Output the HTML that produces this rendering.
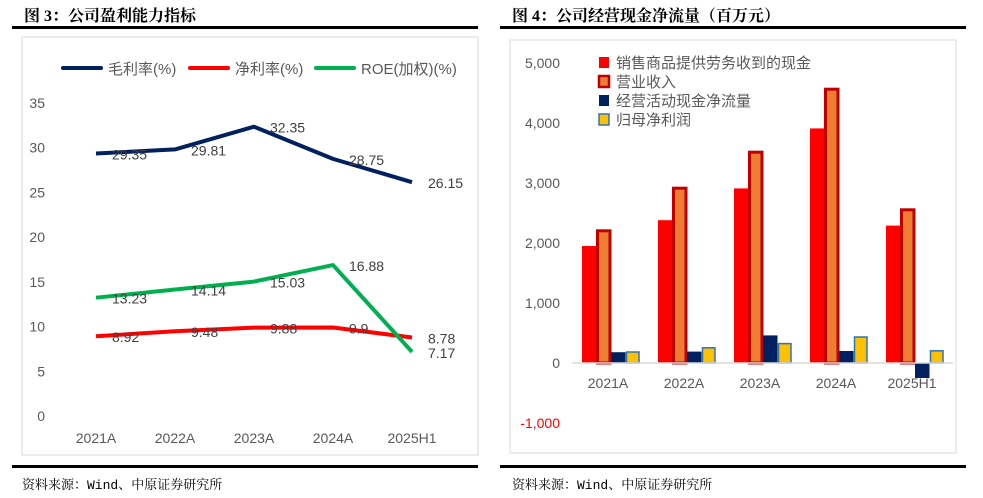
<!DOCTYPE html>
<html><head><meta charset="utf-8">
<style>
body{margin:0;background:#fff;width:983px;height:498px;overflow:hidden;font-family:"Liberation Sans","Noto Sans CJK SC",sans-serif;}
.t{position:absolute;font-family:"Liberation Serif","Noto Serif CJK SC",serif;font-weight:bold;font-size:16px;color:#000;}
.rule{position:absolute;background:#000;}
.f{position:absolute;font-family:"Liberation Mono","Noto Serif CJK SC",monospace;font-size:13px;color:#000;}
</style></head><body>
<div class="t" style="left:24px;top:3px">图 3：公司盈利能力指标</div>
<div class="t" style="left:512px;top:3px">图 4：公司经营现金净流量（百万元）</div>
<div class="rule" style="left:12px;top:26px;width:466px;height:3px"></div>
<div class="rule" style="left:500px;top:26px;width:466px;height:3px"></div>
<div class="rule" style="left:12px;top:465px;width:466px;height:3px"></div>
<div class="rule" style="left:500px;top:465px;width:466px;height:3px"></div>
<div class="f" style="left:22px;top:474px">资料来源：Wind、中原证券研究所</div>
<div class="f" style="left:512px;top:474px">资料来源：Wind、中原证券研究所</div>
<svg width="983" height="498" style="position:absolute;left:0;top:0" id="svg">
<rect x="22" y="37" width="456" height="418" fill="none" stroke="#d9d9d9"/>
<rect x="510" y="40" width="446" height="413" fill="none" stroke="#d9d9d9"/>
<g id="left"></g><g id="right"></g>
</svg>
<script>
const cats=["2021A","2022A","2023A","2024A","2025H1"];
const gross=[29.35,29.81,32.35,28.75,26.15];
const net=[8.92,9.48,9.88,9.9,8.78];
const roe=[13.23,14.14,15.03,16.88,7.17];
const leftTicks=[0,5,10,15,20,25,30,35];
const salesCash=[1950,2380,2910,3910,2290];
const revenue=[2220,2930,3530,4580,2570];
const ocf=[180,190,460,200,-250];
const netProfit=[200,270,340,450,220];
const rightTicks=[-1000,0,1000,2000,3000,4000,5000];
const rightTickLabels=["-1,000","0","1,000","2,000","3,000","4,000","5,000"];
const NS="http://www.w3.org/2000/svg";
function mk(p,tag,a,txt){const e=document.createElementNS(NS,tag);for(const k in a)e.setAttribute(k,a[k]);if(txt!==undefined)e.textContent=txt;p.appendChild(e);return e;}
const L=document.getElementById('left'),R=document.getElementById('right');
// left axes
const ly=v=>416-v*313/35, lx=i=>96+i*79;
leftTicks.forEach(v=>{const t=mk(L,'text',{x:45,y:ly(v)+5,'text-anchor':'end','font-size':14,fill:'#595959'},String(v));

});
cats.forEach((c,i)=>{const t=mk(L,'text',{x:lx(i),y:443,'text-anchor':'middle','font-size':14,fill:'#595959'},c);

});
const series=[[gross,'#002060','gross-margin-line'],[net,'#ff0000','net-margin-line'],[roe,'#00b050','roe-line']];
series.forEach(([d,col,nm])=>{const p=mk(L,'polyline',{points:d.map((v,i)=>lx(i)+','+ly(v)).join(' '),fill:'none',stroke:col,'stroke-width':4,'stroke-linejoin':'round'});


d.forEach((v,i)=>{const t=mk(L,'text',{x:lx(i)+16,y:ly(v)+6,'font-size':14,fill:'#404040'},String(v));

});});
const leg=[[63,'毛利率(%)','#002060'],[190,'净利率(%)','#ff0000'],[316,'ROE(加权)(%)','#00b050']];
leg.forEach(([x,txt,col])=>{const l=mk(L,'line',{x1:x,y1:68,x2:x+38,y2:68,stroke:col,'stroke-width':4,'stroke-linecap':'round'});


const t=mk(L,'text',{x:x+45,y:74,'font-size':15,fill:'#595959'},txt);

});
// right
const ry=v=>363-v*0.06, rx=i=>611+i*76;
rightTicks.forEach((v,k)=>{const t=mk(R,'text',{x:560,y:ry(v)+5,'text-anchor':'end','font-size':14,fill:v<0?'#ff0000':'#595959'},rightTickLabels[k]);

});
const bs=[[salesCash,'#ff0000','none','bar-sales-cash'],[revenue,'#ed7d31','#c00000','bar-revenue'],[ocf,'#002060','none','bar-ocf'],[netProfit,'#ffc000','#2e75b6','bar-net-profit']];
cats.forEach((c,i)=>{bs.forEach(([d,f,s,nm],j)=>{const v=d[i];const x=rx(i)-29+j*14.5;const y=Math.min(ry(v),ry(0));const h=Math.abs(ry(v)-ry(0));
const r=mk(R,'rect',{x:x+(s!=='none'?1:0),y:y+(s!=='none'?1:0),width:s!=='none'?12.5:14.5,height:Math.max(h-(s!=='none'?1:0),0),fill:f,stroke:s,'stroke-width':s==='#c00000'?3:1.5});

});
const t=mk(R,'text',{x:rx(i)-3,y:388,'text-anchor':'middle','font-size':14,fill:'#595959'},c);

});
const ax=mk(R,'line',{x1:572,y1:363,x2:953,y2:363,stroke:'#d9d9d9','stroke-width':1.5});


const rl=[['销售商品提供劳务收到的现金','#ff0000','none'],['营业收入','#ed7d31','#c00000'],['经营活动现金净流量','#002060','none'],['归母净利润','#ffc000','#2e75b6']];
rl.forEach(([txt,f,s],k)=>{const y=63+k*19;const r=mk(R,'rect',{x:599,y:y-6,width:10,height:11,fill:f,stroke:s,'stroke-width':s==='#c00000'?2.5:1.5});


const t=mk(R,'text',{x:616,y:y+5,'font-size':15,fill:'#595959'},txt);

});
</script>
</body></html>
